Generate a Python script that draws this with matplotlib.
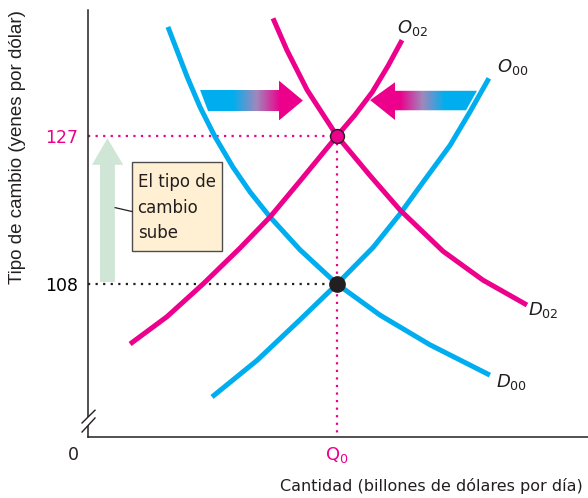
#!/usr/bin/env python3
'''mercado de divisas: subida del tipo de cambio yen/dolar'''
import numpy as np
import matplotlib
matplotlib.use('Agg')
import matplotlib.pyplot as plt
from matplotlib.patches import Polygon, Rectangle
from matplotlib.colors import LinearSegmentedColormap

plt.rcParams['font.family'] = ['DejaVu Sans']
plt.rcParams['mathtext.fontset'] = 'dejavusans'

BLUE = '#00aeef'
PINK = '#ec008c'
INK  = '#231f20'

# curves (quantity, yen per dollar)
d00_q = [32.1, 39.8, 45.0, 51.0, 58.2, 65.1, 73.1, 85.1, 100, 117.3, 137.3, 161.4]
d00_p = [141.0, 134.6, 130.7, 126.9, 123.0, 119.8, 116.6, 112.4, 108.0, 104.0, 100.2, 96.3]
d02_q = [74.3, 79.9, 88.0, 100, 113.3, 125.3, 142.6, 158.6, 176.3]
d02_p = [142.1, 138.0, 132.9, 127.0, 121.9, 117.5, 112.2, 108.5, 105.3]
o00_q = [49.8, 67.9, 85.1, 100, 114.5, 125.3, 135.3, 145.4, 153.4, 161.0]
o00_p = [93.5, 98.2, 103.4, 108.0, 112.7, 117.0, 121.4, 125.8, 130.1, 134.4]
o02_q = [16.9, 31.7, 46.2, 61.0, 73.1, 85.1, 100, 107.2, 114.1, 120.5, 126.1]
o02_p = [100.3, 103.8, 108.0, 112.6, 116.6, 121.2, 127.0, 129.7, 132.6, 136.0, 139.3]

q0     = 100
p_old  = 108
p_new  = 127
y_ticks = [108, 127]

fig = plt.figure(figsize=(5.88, 4.98), dpi=100)
ax = fig.add_axes([0.1497, 0.1225, 0.8503, 0.8574])

curve = dict(lw=3.6, solid_capstyle='butt', solid_joinstyle='round', zorder=3)
ax.plot(d00_q, d00_p, color=BLUE, **curve)
ax.plot(o00_q, o00_p, color=BLUE, **curve)
ax.plot(d02_q, d02_p, color=PINK, **curve)
ax.plot(o02_q, o02_p, color=PINK, **curve)

# guide lines
dots = (0, (1, 2.4))
ax.plot([0, q0], [p_new, p_new], color=PINK, lw=1.6, ls=dots, zorder=2)
ax.plot([q0, q0], [88, p_new], color=PINK, lw=1.6, ls=dots, zorder=2)
ax.plot([0, q0], [p_old, p_old], color=INK, lw=1.6, ls=dots, zorder=2)

ax.plot(q0, p_new, 'o', ms=10, mfc=PINK, mec=INK, mew=1.0, zorder=5)
ax.plot(q0, p_old, 'o', ms=11, mfc=INK, mec=INK, zorder=5)

# gradient arrows
def grad_arrow(verts, c0, c1, f0, f1):
    poly = Polygon(verts, closed=True, fc='none', ec='none')
    ax.add_patch(poly)
    xs = [v[0] for v in verts]
    ys = [v[1] for v in verts]
    cmap = LinearSegmentedColormap.from_list(
        'g', [(0, c0), (f0, c0), ((f0 + f1) / 2, '#a088bc'), (f1, c1), (1, c1)])
    im = ax.imshow(np.linspace(0, 1, 256).reshape(1, -1), cmap=cmap, aspect='auto',
                   extent=[min(xs), max(xs), min(ys), max(ys)], zorder=4)
    im.set_clip_path(poly)

grad_arrow([(45.0, 132.9), (76.7, 132.9), (76.7, 134.1), (86.3, 131.55),
            (76.7, 129.0), (76.7, 130.2), (48.2, 130.2)], BLUE, PINK, 0.32, 0.78)
grad_arrow([(113.3, 131.6), (123.3, 133.9), (123.3, 132.8), (156.2, 132.8),
            (151.8, 130.3), (123.3, 130.3), (123.3, 129.05)], PINK, BLUE, 0.28, 0.70)

# green up arrow
ax.add_patch(Polygon([(4.8, 108.26), (10.8, 108.26), (10.8, 123.3), (14.1, 123.3),
                      (7.8, 126.7), (1.6, 123.3), (4.8, 123.3)],
                     closed=True, fc='#cfe6d6', ec='none', zorder=2))

# note box
ax.add_patch(Rectangle((17.7, 112.2), 36.1, 11.5, fc='#fff0d4', ec='#4d4d4d', lw=1.0, zorder=4))
ax.plot([10.9, 17.7], [117.8, 117.3], color=INK, lw=0.9, zorder=4)
ax.text(19.9, 117.8, 'El tipo de\ncambio\nsube', fontsize=12, color=INK, ha='left',
        va='center', linespacing=1.55, zorder=5)

# curve labels
lab = dict(fontsize=13, color=INK, ha='center', va='center')
ax.text(130.5, 140.9, r'$O_{\mathrm{02}}$', **lab)
ax.text(170.5, 135.8, r'$O_{\mathrm{00}}$', **lab)
ax.text(183.0, 104.6, r'$D_{\mathrm{02}}$', **lab)
ax.text(170.0, 95.4, r'$D_{\mathrm{00}}$', **lab)

ax.set_xlim(0, 200.8)
ax.set_ylim(88.36, 143.17)
ax.spines[['top', 'right']].set_visible(False)
for s in ('left', 'bottom'):
    ax.spines[s].set_color(INK)
    ax.spines[s].set_linewidth(1.1)

ax.set_xticks([q0])
ax.set_xticklabels([r'$\mathregular{Q_0}$'], fontsize=13, color=PINK)
ax.set_yticks(y_ticks)
ax.set_yticklabels([str(v) for v in y_ticks], fontsize=12.5)
ax.get_yticklabels()[1].set_color(PINK)
ax.tick_params(axis='y', length=0, pad=7)
ax.tick_params(axis='x', length=0, pad=6)

# axis break
ax.add_patch(Polygon([(-2.4, 90.16), (2.8, 91.8), (2.8, 90.8), (-2.4, 89.0)],
                     closed=True, fc='white', ec='none', clip_on=False, zorder=6))
ax.plot([-2.4, 2.8], [90.16, 91.8], color=INK, lw=1.0, clip_on=False, zorder=7)
ax.plot([-2.4, 2.8], [89.0, 90.8], color=INK, lw=1.0, clip_on=False, zorder=7)

fig.text(73 / 588, 1 - 455 / 498, '0', fontsize=12.5, color=INK, ha='center', va='center')
fig.text(583 / 588, 1 - 486 / 498, 'Cantidad (billones de dólares por día)', fontsize=11.5,
         color=INK, ha='right', va='center')
fig.text(18 / 588, 1 - 147 / 498, 'Tipo de cambio (yenes por dólar)', fontsize=13.5,
         color=INK, ha='center', va='center', rotation=90, family='Liberation Sans')

fig.savefig('out.png', dpi=100)
